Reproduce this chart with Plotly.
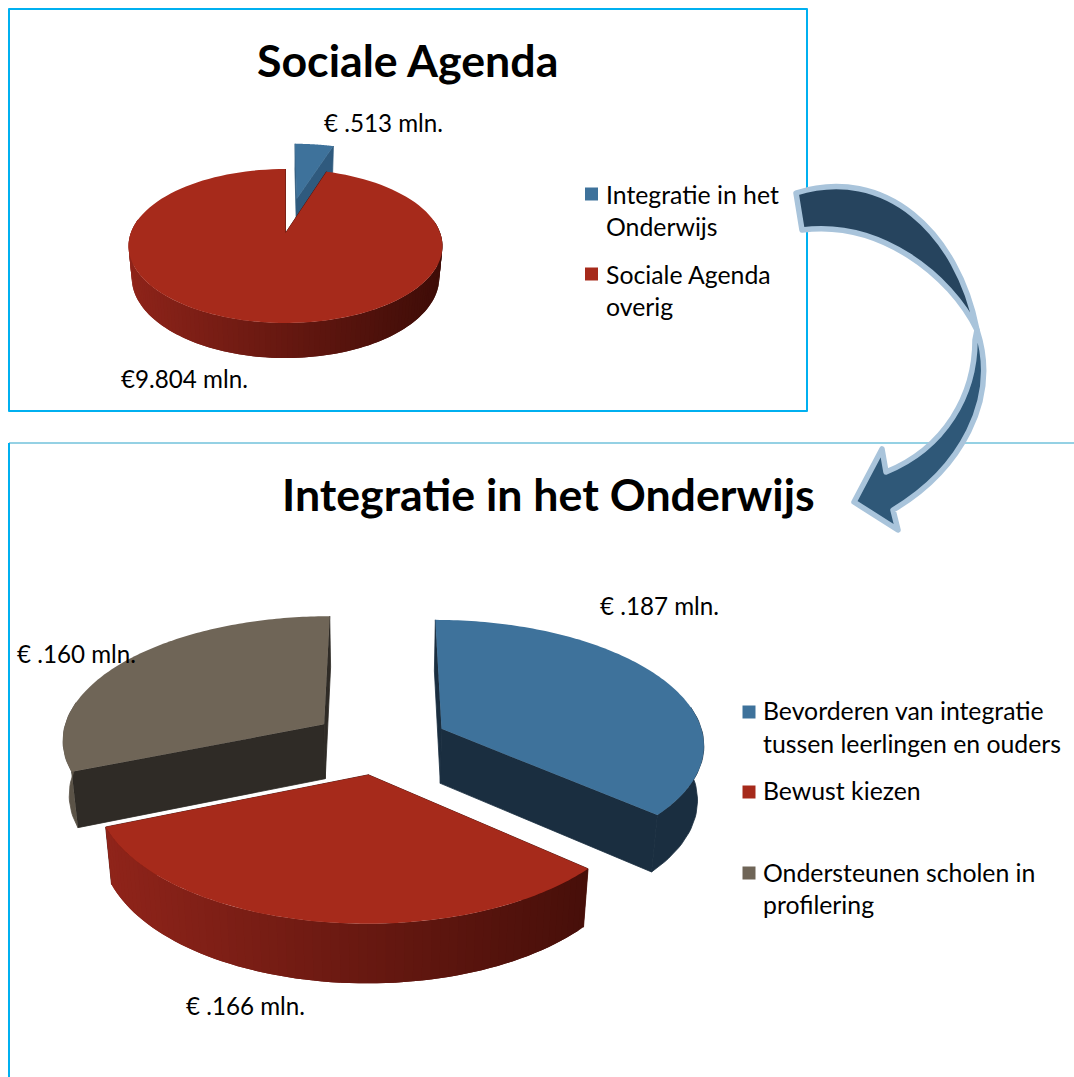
import numpy as np
import plotly.graph_objects as go

# ---- data ----
top_title = "Sociale Agenda"
top_categories = ["Integratie in het Onderwijs", "Sociale Agenda overig"]
top_values = [0.513, 9.804]
top_labels = ["€ .513 mln.", "€9.804 mln."]
top_explode = [0.5, 0.0]

bottom_title = "Integratie in het Onderwijs"
bottom_categories = ["Bevorderen van integratie tussen leerlingen en ouders", "Bewust kiezen",
                     "Ondersteunen scholen in profilering"]
bottom_values = [0.187, 0.166, 0.160]
bottom_labels = ["€ .187 mln.", "€ .166 mln.", "€ .160 mln."]
bottom_explode = [0.26, 0.26, 0.26]

# ---- styles ----
FONT = "Lato"
BLUE = dict(top="#3e729b", radial="#2f5a7e", outer="#2f5a7e")
BLUE2 = dict(top="#3e729b", radial="#1a2e40", outer="#1a2e40")
RED = dict(top="#a62a1b", radial="#4a0f09", outer=("#90241a", "#3d0c07"))
GREY = dict(top="#6f6557", radial="#2f2b26", outer="#5b5347")
FRAME = "#00b0f0"

fig = go.Figure()


def project(cam, u, v, z):
    w = 1 + cam["k"] * v + cam["m"] * z
    return cam["cx"] + cam["a"] * u / w, cam["cy"] + (-cam["b"] * v + cam["D"] * z) / w


def poly(xs, ys, color, edge=False):
    fig.add_trace(go.Scatter(x=list(xs), y=list(ys), mode="lines" if edge else "none", fill="toself",
                             fillcolor=color, line=dict(color=color, width=0.8),
                             hoverinfo="skip", showlegend=False))


def mix(c1, c2, t):
    a = [int(c1[i:i + 2], 16) for i in (1, 3, 5)]
    b = [int(c2[i:i + 2], 16) for i in (1, 3, 5)]
    return "rgb(%d,%d,%d)" % tuple(round(p + (q - p) * t) for p, q in zip(a, b))


def pie3d(values, explode, styles, cam, order):
    total = sum(values)
    edges = np.concatenate([[0], np.cumsum(values)]) / total * 2 * np.pi
    for i in order:
        t0, t1 = edges[i], edges[i + 1]
        mid = (t0 + t1) / 2
        ou, ov = explode[i] * np.sin(mid), explode[i] * np.cos(mid)
        st = styles[i]
        ax0, ay0 = project(cam, ou, ov, 0)
        ax1, ay1 = project(cam, ou, ov, 1)
        # radial walls
        for t in (t0, t1):
            u, v = ou + np.sin(t), ov + np.cos(t)
            x0, y0 = project(cam, u, v, 0)
            x1, y1 = project(cam, u, v, 1)
            poly([ax0, x0, x1, ax1, ax0], [ay0, y0, y1, ay1, ay0], st["radial"], True)
        # rim wall: overlapping strips, painted in order, so no seams show
        th = np.linspace(t0, t1, max(int((t1 - t0) / 0.03), 2) + 1)
        xmin, xmax = project(cam, -1.05, 0, 0)[0], project(cam, 1.05, 0, 0)[0]
        keep = th[np.cos(th) <= 0.2]
        if isinstance(st["outer"], tuple):
            for j in range(len(keep) - 1):
                seg = keep[j:j + 3]
                u, v = ou + np.sin(seg), ov + np.cos(seg)
                xt, yt = project(cam, u, v, 0)
                xb, yb = project(cam, u, v, 1)
                f = np.clip((xt[0] - xmin) / (xmax - xmin), 0, 1)
                poly(np.r_[xt, xb[::-1]], np.r_[yt, yb[::-1]], mix(st["outer"][0], st["outer"][1], f))
        elif len(keep) > 1:
            u, v = ou + np.sin(keep), ov + np.cos(keep)
            xt, yt = project(cam, u, v, 0)
            xb, yb = project(cam, u, v, 1)
            poly(np.r_[xt, xb[::-1]], np.r_[yt, yb[::-1]], st["outer"], True)
        # top face
        th = np.linspace(t0, t1, 120)
        rx, ry = project(cam, ou + np.sin(th), ov + np.cos(th), 0)
        poly(np.r_[ax0, rx, ax0], np.r_[ay0, ry, ay0], st["top"])


pie3d(top_values, top_explode, [BLUE, RED],
      dict(cx=285.5, cy=233, a=154.7, b=74.8, k=0.169, m=0.02, D=31.6), [0, 1])
pie3d(bottom_values, bottom_explode, [BLUE2, RED, GREY],
      dict(cx=380, cy=742, a=263, b=124.1, k=0.113, m=0.02, D=56), [2, 0, 1])

# legend swatches
swatch_x = [591.5, 591.5, 749, 749, 749]
swatch_y = [194, 274, 712, 792, 873]
swatch_c = [BLUE["top"], RED["top"], BLUE["top"], RED["top"], GREY["top"]]
fig.add_trace(go.Scatter(x=swatch_x, y=swatch_y, mode="markers", hoverinfo="skip", showlegend=False,
                         marker=dict(symbol="square", size=13, color=swatch_c, line=dict(width=0))))

ann = []


def text(x, y, s, size, bold=False, anchor="left"):
    ann.append(dict(x=x, y=y, xref="x", yref="y", text=f"<b>{s}</b>" if bold else s, showarrow=False,
                    xanchor=anchor, yanchor="middle", align=anchor,
                    font=dict(family=FONT, size=size, color="#000000")))


text(407, 60, top_title, 44.7, True, "center")
text(548, 494, bottom_title, 44.7, True, "center")
LS = 24.2
LG = 24.8
text(322, 122, top_labels[0], LS)
text(119, 378, top_labels[1], LS)
text(598, 605, bottom_labels[0], LS)
text(184, 1005, bottom_labels[1], LS)
text(15, 653, bottom_labels[2], LS)
for x, y, s in [(604, 194, "Integratie in het"), (604, 226, "Onderwijs"),
                (604, 274, "Sociale Agenda"), (604, 306, "overig"),
                (761, 710, "Bevorderen van integratie"), (761, 743, "tussen leerlingen en ouders"),
                (761, 790, "Bewust kiezen"), (761, 872, "Ondersteunen scholen in"),
                (761, 904, "profilering")]:
    text(x, y, s, LG)

ARROW = dict(color="#a9c4db", width=5.5)
shapes = [
    dict(type="rect", x0=9, y0=9, x1=807, y1=411, line=dict(color=FRAME, width=2), layer="below"),
    dict(type="line", x0=9, y0=443, x1=1074, y1=443, line=dict(color="#2aa3c9", width=1), layer="below"),
    dict(type="line", x0=9, y0=443, x1=9, y1=1077, line=dict(color=FRAME, width=2), layer="below"),
    dict(type="path", fillcolor="#2f5878", line=ARROW,
         path="M977,330 C1000,400 960,470 893,510 L898,530 L854,502 L882,449 L886,472 "
              "C945,448 975,395 975,340 Z"),
    dict(type="path", fillcolor="#26445e", line=ARROW,
         path="M796,193 C885,165 958,232 977,330 C950,275 880,220 802,230 Z"),
]

fig.update_layout(
    width=1074, height=1077, margin=dict(l=0, r=0, t=0, b=0),
    paper_bgcolor="white", plot_bgcolor="white", showlegend=False, hovermode=False,
    xaxis=dict(range=[0, 1074], visible=False, fixedrange=True),
    yaxis=dict(range=[1077, 0], visible=False, fixedrange=True),
    annotations=ann, shapes=shapes,
)
post = ("document.body.style.margin='0';document.body.style.overflow='hidden';"
        "var s=document.createElement('style');"
        "s.textContent='.shapelayer path{stroke-linejoin:round}';document.head.appendChild(s);")
fig.write_html("out.html", post_script=post, config=dict(displayModeBar=False))
